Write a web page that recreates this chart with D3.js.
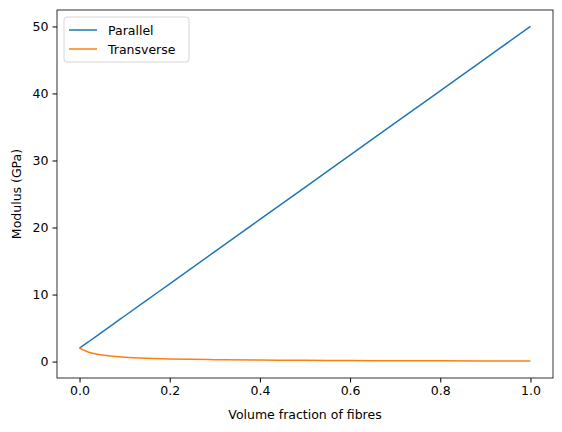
<!DOCTYPE html>
<html><head><meta charset="utf-8">
<script src="https://cdn.jsdelivr.net/npm/d3@7"></script>
<style>body{margin:0;background:#fff}text{font-family:"DejaVu Sans",sans-serif}</style>
</head><body><svg id="c" width="562" height="432"></svg>
<script>
const vf = [0,0.02,0.04,0.06,0.08,0.1,0.15,0.2,0.3,0.4,0.5,0.6,0.7,0.8,0.9,1.0];
const parallel = [2,2.96,3.92,4.88,5.84,6.8,9.2,11.6,16.4,21.2,26,30.8,35.6,40.4,45.2,50];
const transverse = [2,1.4,1.1,0.9,0.76,0.66,0.5,0.4,0.29,0.22,0.18,0.15,0.13,0.11,0.1,0.09];
const xTicks = [0,0.2,0.4,0.6,0.8,1.0];
const yTicks = [0,10,20,30,40,50];
const svg = d3.select("#c");
const L=57,R=553,T=10,B=378, FS=12.5;
const x = d3.scaleLinear().domain([-0.05,1.05]).range([L,R]);
const y = d3.scaleLinear().domain([-2.45,52.45]).range([B,T]);
const gx = svg.append("g").attr("transform",`translate(0,${B})`).call(d3.axisBottom(x).tickValues(xTicks).tickFormat(d3.format(".1f")).tickSize(4.5).tickPadding(4));
const gy = svg.append("g").attr("transform",`translate(${L},0)`).call(d3.axisLeft(y).tickValues(yTicks).tickSize(4.5).tickPadding(4));
[gx,gy].forEach(g=>{g.select(".domain").remove();g.selectAll("text").attr("font-size",FS).attr("fill","#000").style("font-family","DejaVu Sans");});
svg.append("rect").attr("x",L).attr("y",T).attr("width",R-L).attr("height",B-T).attr("fill","none").attr("stroke","#000").attr("stroke-width",0.8);
const line = d3.line().x((d,i)=>x(vf[i])).y(d=>y(d)).curve(d3.curveMonotoneX);
svg.append("path").attr("d",line(parallel)).attr("fill","none").attr("stroke","#1f77b4").attr("stroke-width",1.5);
svg.append("path").attr("d",line(transverse)).attr("fill","none").attr("stroke","#ff7f0e").attr("stroke-width",1.5);
svg.append("text").attr("x",(L+R)/2).attr("y",419).attr("text-anchor","middle").attr("font-size",FS).text("Volume fraction of fibres");
svg.append("text").attr("transform",`translate(21,${(T+B)/2}) rotate(-90)`).attr("text-anchor","middle").attr("font-size",FS).text("Modulus (GPa)");
const lg = svg.append("g");
lg.append("rect").attr("x",64).attr("y",17).attr("width",125).attr("height",45).attr("rx",3).attr("fill","#fff").attr("stroke","#ccc").attr("stroke-width",0.8);
[["Parallel","#1f77b4"],["Transverse","#ff7f0e"]].forEach((d,i)=>{
 const yy=30+i*19;
 lg.append("line").attr("x1",69).attr("x2",97).attr("y1",yy).attr("y2",yy).attr("stroke",d[1]).attr("stroke-width",1.5);
 lg.append("text").attr("x",108).attr("y",yy+4.5).attr("font-size",FS).text(d[0]);
});
</script></body></html>
